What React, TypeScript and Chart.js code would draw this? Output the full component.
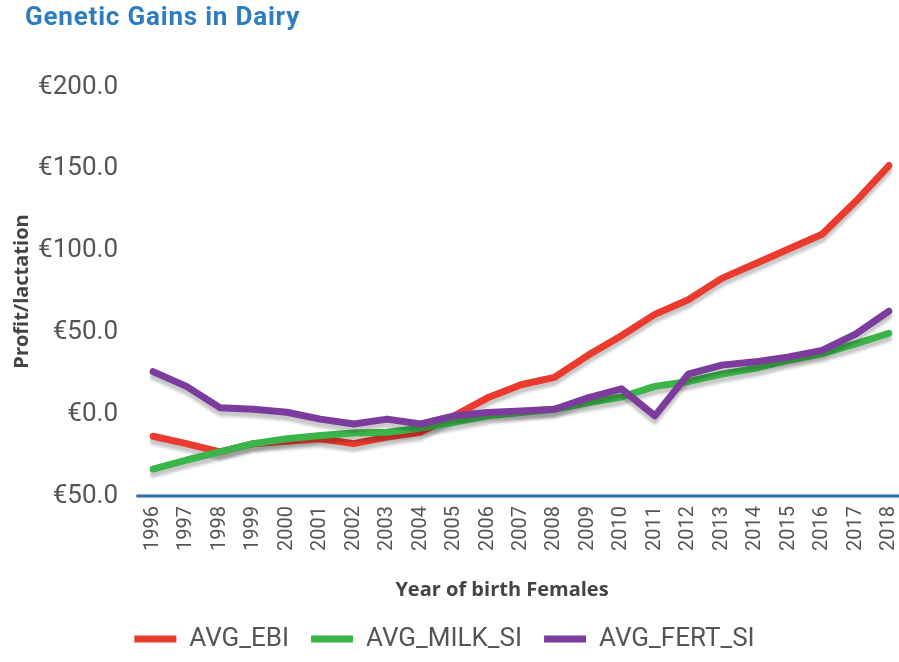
import React, { useEffect, useRef } from "react";
import { Chart, registerables } from "chart.js";

Chart.register(...registerables);

const years = [
  "1996", "1997", "1998", "1999", "2000", "2001", "2002", "2003", "2004", "2005", "2006",
  "2007", "2008", "2009", "2010", "2011", "2012", "2013", "2014", "2015", "2016", "2017", "2018",
];
const avgEbi = [-13.5, -18, -23, -18, -16.5, -15, -18, -14, -11, -1, 10, 18, 22.5, 36, 48, 61, 70, 83, 92, 101, 110, 130, 152];
const avgMilkSi = [-33.5, -28, -23, -18, -15, -13, -11.5, -11, -8.5, -5, -1, 1, 3, 7, 10.5, 17, 20, 24.5, 28, 33, 37, 43, 49.5];
const avgFertSi = [26, 17, 4, 3, 1.2, -3, -6, -3, -6, -1, 1, 2, 3, 10, 15.5, -1, 24.5, 30, 32, 35, 39, 49, 63];
const yTickValues = [-50, 0, 50, 100, 150, 200];
const yTickLabels = ["€50.0", "€0.0", "€50.0", "€100.0", "€150.0", "€200.0"];
const chartTitle = "Genetic Gains in Dairy";
const xTitle = "Year of birth Females";
const yTitle = "Profit/lactation";

const FONT = "Roboto, sans-serif";

const shadowPlugin = {
  id: "lineShadow",
  beforeDatasetDraw(chart: any) {
    const ctx = chart.ctx;
    ctx.save();
    ctx.shadowColor = "rgba(0,0,0,0.22)";
    ctx.shadowOffsetY = 5;
    ctx.shadowOffsetX = 0;
    ctx.shadowBlur = 3;
  },
  afterDatasetDraw(chart: any) {
    chart.ctx.restore();
  },
};

const axisLinePlugin = {
  id: "axisLine",
  beforeDatasetsDraw(chart: any) {
    const { ctx, chartArea } = chart;
    const xs = chart.scales.x;
    const step = (xs.getPixelForValue(1) - xs.getPixelForValue(0)) / 2;
    ctx.save();
    ctx.strokeStyle = "#2f6fae";
    ctx.lineWidth = 3;
    ctx.beginPath();
    ctx.moveTo(chartArea.left - step, chartArea.bottom);
    ctx.lineTo(chart.width, chartArea.bottom);
    ctx.stroke();
    ctx.restore();
  },
};

export default function App() {
  const ref = useRef<HTMLCanvasElement>(null);
  useEffect(() => {
    document.body.style.margin = "0";
    const mk = (label: string, data: number[], color: string, order: number) => ({
      label,
      data,
      borderColor: color,
      backgroundColor: color,
      borderWidth: 7,
      pointRadius: 0,
      tension: 0,
      borderCapStyle: "round",
      borderJoinStyle: "round",
      order,
    });
    const chart = new Chart(ref.current as HTMLCanvasElement, {
      type: "line",
      data: {
        labels: years,
        datasets: [
          mk("AVG_EBI", avgEbi, "#ea3b2e", 3),
          mk("AVG_MILK_SI", avgMilkSi, "#3bb54a", 2),
          mk("AVG_FERT_SI", avgFertSi, "#7b3c9e", 1),
        ] as any,
      },
      options: {
        animation: false,
        responsive: true,
        maintainAspectRatio: false,
        layout: { padding: { top: 87, right: 10, left: 0, bottom: 0 } },
        plugins: {
          title: { display: false },
          tooltip: { enabled: false },
          legend: {
            position: "bottom",
            labels: {
              usePointStyle: true,
              pointStyle: "line",
              pointStyleWidth: 42,
              boxHeight: 26,
              color: "#555",
              font: { family: FONT, size: 26 },
              padding: 22,
              sort: (a: any, b: any) => a.datasetIndex - b.datasetIndex,
            },
          },
        },
        scales: {
          x: {
            offset: false,
            grid: { display: false },
            border: { display: false },
            afterFit: (axis: any) => {
              axis.paddingLeft = 0;
              axis.paddingRight = 0;
              axis.height = 108;
            },
            ticks: {
              color: "#555",
              font: { family: FONT, size: 20 },
              maxRotation: 90,
              minRotation: 90,
              autoSkip: false,
              padding: 2,
            },
          },
          y: {
            min: -50,
            max: 200,
            afterBuildTicks: (axis: any) => {
              axis.ticks = yTickValues.map((v) => ({ value: v }));
            },
            afterFit: (axis: any) => {
              axis.width = 153;
            },
            grid: { display: false },
            border: { display: false },
            ticks: {
              color: "#555",
              font: { family: FONT, size: 26 },
              padding: 27,
              callback: (v: any) => yTickLabels[yTickValues.indexOf(Number(v))] ?? "",
            },
            title: {
              display: true,
              text: yTitle,
              color: "#444",
              font: { family: '"Open Sans", sans-serif', size: 20, weight: "bold" },
              padding: { top: 10, bottom: 0 },
            },
          },
        },
      },
      plugins: [shadowPlugin, axisLinePlugin],
    });
    return () => chart.destroy();
  }, []);

  return (
    <div style={{ position: "relative", width: 899, height: 662, background: "#fff" }}>
      <div
        style={{
          position: "absolute",
          left: 25,
          top: 1,
          fontFamily: "Roboto, sans-serif",
          fontWeight: 700,
          fontSize: 26,
          letterSpacing: "0.8px",
          color: "#2d7dc0",
          whiteSpace: "nowrap",
        }}
      >
        {chartTitle}
      </div>
      <div
        style={{
          position: "absolute",
          left: 0,
          width: 1004,
          top: 575,
          textAlign: "center",
          fontFamily: '"Open Sans", sans-serif',
          fontWeight: 700,
          fontSize: 20,
          color: "#444",
          whiteSpace: "nowrap",
        }}
      >
        {xTitle}
      </div>
      <canvas ref={ref} style={{ width: "100%", height: "100%" }} />
    </div>
  );
}
